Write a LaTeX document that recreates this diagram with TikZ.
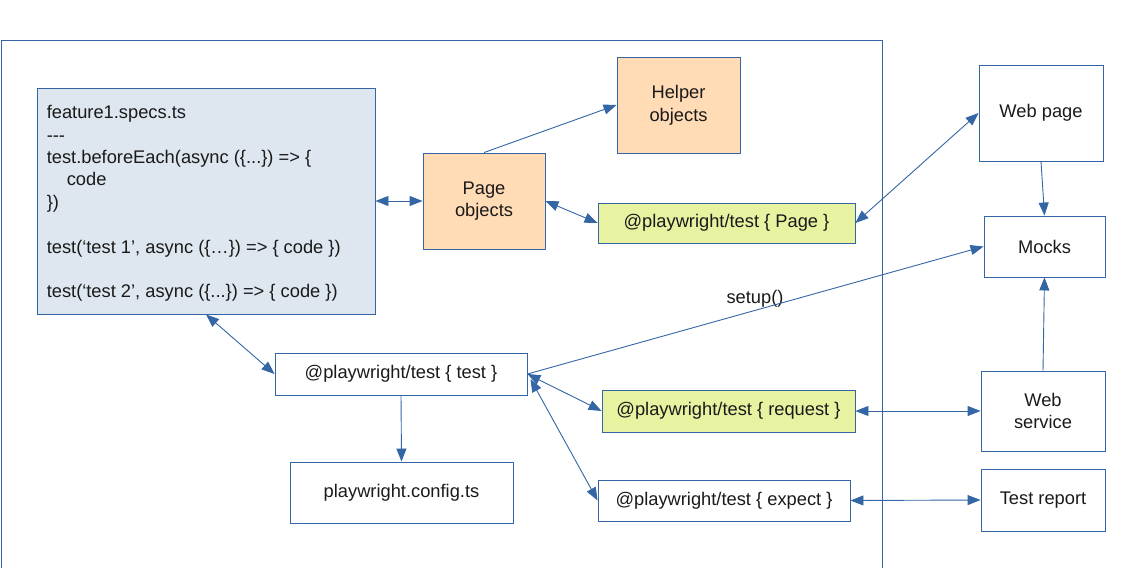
\documentclass[tikz,border=0pt]{standalone}
\usepackage{fontspec}
\setmainfont{Liberation Sans}
\usetikzlibrary{arrows.meta}
\definecolor{lineblue}{HTML}{3465A4}
\definecolor{grayfill}{HTML}{DEE6EF}
\definecolor{orangefill}{HTML}{FFDBB6}
\definecolor{yellowfill}{HTML}{E8F2A1}
\definecolor{txt}{HTML}{1A1A1A}
\frenchspacing
\begin{document}
\begin{tikzpicture}[x=1pt,y=-1pt,
  box/.style={draw=lineblue, line width=0.9pt, align=center, inner sep=0pt,
    text=txt, font=\fontsize{18.3}{22.6}\selectfont},
  conn/.style={draw=lineblue, line width=0.9pt},
  tipa/.tip={Triangle[length=13pt,width=10pt]},
  oneway/.style={conn, -tipa},
  twoway/.style={conn, tipa-tipa}]
\useasboundingbox (0,0) rectangle (1123,567);
% container
\draw[lineblue, line width=0.9pt] (1,570) -- (1,40) -- (882,40) -- (882,570);
% nodes
\node[box, fill=grayfill, minimum width=338pt, minimum height=226pt] (feat) at (206,201) {};
\node[text=txt, inner sep=0pt, anchor=west, align=left, font=\fontsize{18.3}{22.4}\selectfont]
  (feattxt) at ([xshift=10pt,yshift=-2.5pt]feat.west)
  {feature1.specs.ts\\-{}-{}-\\test.beforeEach(async (\{...\}) => \{\\\hspace*{20pt}code\\\})\\[22.4pt]test(‘test 1’, async (\{…\}) => \{ code \})\\[22.4pt]test(‘test 2’, async (\{...\}) => \{ code \})};
\node[box, fill=orangefill, minimum width=122pt, minimum height=96pt] (po) at (484,201) {Page\\objects};
\node[box, fill=orangefill, minimum width=123pt, minimum height=96pt] (help) at (678.5,105) {Helper\\objects};
\node[box, fill=yellowfill, minimum width=257pt, minimum height=40pt] (pg) at (726.5,223) {@playwright/test \{ Page \}};
\node[box, minimum width=124pt, minimum height=96pt] (wp) at (1041,113) {Web page};
\node[box, minimum width=121pt, minimum height=61pt] (mk) at (1044.5,246.5) {Mocks};
\node[box, minimum width=252pt, minimum height=42pt] (tst) at (401,374) {@playwright/test \{ test \}};
\node[box, fill=yellowfill, minimum width=253pt, minimum height=42pt] (rq) at (728.5,411) {@playwright/test \{ request \}};
\node[box, minimum width=252pt, minimum height=41pt] (ex) at (724,500.5) {@playwright/test \{ expect \}};
\node[box, minimum width=223pt, minimum height=61pt] (cfg) at (401.5,492.5) {playwright.config.ts};
\node[box, minimum width=124pt, minimum height=80pt] (ws) at (1043,411) {Web\\service};
\node[box, minimum width=124pt, minimum height=62pt] (tr) at (1043,500) {Test report};
\node[text=txt, font=\fontsize{18.3}{22}\selectfont, inner sep=0pt] (setup) at (755,299) {setup()};
% connectors
\draw[twoway] (feat) -- (po);
\draw[oneway] (po.north) -- (help.west);
\draw[twoway] (po.east) -- (pg.west);
\draw[twoway] (pg.east) -- (wp.west);
\draw[oneway] (wp.south) -- (mk.north);
\draw[oneway] (ws.north) -- (mk.south);
\draw[oneway] (tst.east) -- (mk.west);
\draw[twoway] (feat.south) -- (tst.west);
\draw[oneway] (tst.south) -- (cfg.north);
\draw[twoway] (tst.east) -- (rq.west);
\draw[twoway] ([xshift=3pt,yshift=-5pt]tst.east) -- (ex.west);
\draw[twoway] (rq.east) -- (ws.west);
\draw[twoway] (ex.east) -- (tr.west);
\end{tikzpicture}
\end{document}
